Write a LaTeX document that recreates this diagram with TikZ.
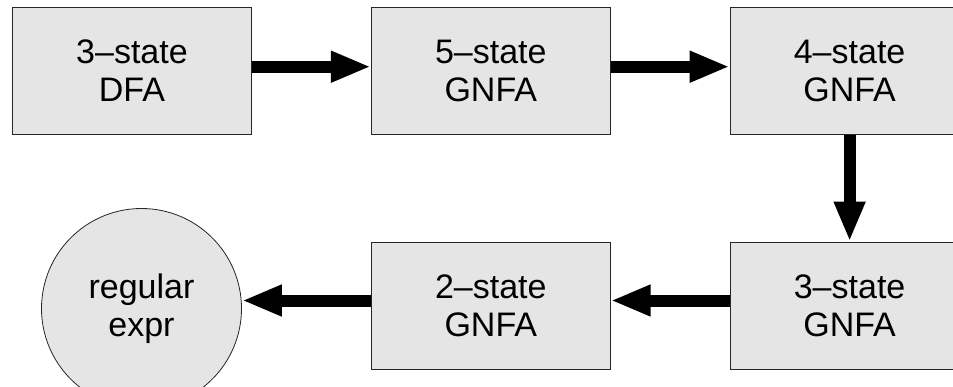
\documentclass[tikz,border=0pt]{standalone}
\usepackage{fontspec}
\setmainfont{Liberation Sans}
\usetikzlibrary{positioning,arrows.meta}

\begin{document}
\begin{tikzpicture}[x=1pt,y=1pt,
    stage/.style={rectangle, draw=black!85, line width=0.8pt, fill=black!10,
      minimum width=239pt, minimum height=127pt, align=center,
      font=\fontsize{34}{38}\selectfont},
    flow/.style={line width=12pt, -{Triangle[length=40pt,width=29pt]}}]
      \useasboundingbox (0,0) rectangle (953,386);
      \node (dfa) [stage] at (132,315.3) {3–state\\DFA};
      \node (g5) [stage, right=119pt of dfa] {5–state\\GNFA};
      \node (g4) [stage, right=119pt of g5] {4–state\\GNFA};
      \node (g3) [stage, below=107pt of g4] {3–state\\GNFA};
      \node (g2) [stage, left=119pt of g3] {2–state\\GNFA};
      \node (re) [stage, circle, minimum size=200pt, left=129pt of g2, yshift=-3pt] {regular\\expr};
      \draw[flow] ([yshift=4pt]dfa.east) -- ([yshift=4pt]g5.west);
      \draw[flow] ([yshift=4pt]g5.east) -- ([yshift=4pt]g4.west);
      \draw[flow] (g4) -- (g3);
      \draw[flow] ([yshift=5pt]g3.west) -- ([yshift=5pt]g2.west -| g2.east);
      \draw[flow] ([yshift=5pt]g2.west) -- ([yshift=5pt]g2.west -| re.east);
    \end{tikzpicture}
\end{document}
